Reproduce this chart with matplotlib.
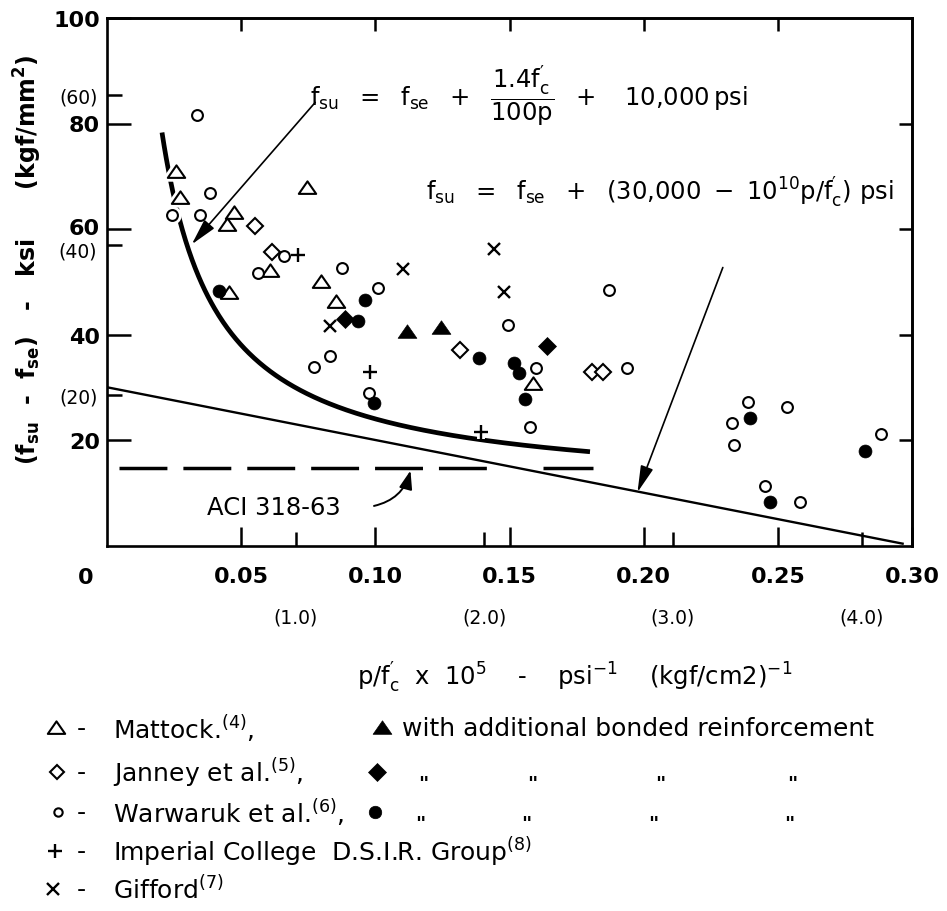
import numpy as np
import matplotlib
matplotlib.use("Agg")
import matplotlib.pyplot as plt
from matplotlib.path import Path
from matplotlib.transforms import ScaledTranslation

plt.rcParams['font.family'] = ['DejaVu Sans']
plt.rcParams['mathtext.fontset'] = 'dejavusans'
plt.rcParams['mathtext.default'] = 'regular'
plt.rcParams['lines.scale_dashes'] = False

# ---------------- data (x = p/f'c x 1e5 [1/psi], y = fsu - fse [ksi]) ----------------
mattock_x = [0.0257, 0.0272, 0.0474, 0.0449, 0.0747, 0.0606, 0.0456, 0.0799, 0.0854, 0.1587]
mattock_y = [70.8, 65.8, 63.0, 60.7, 67.7, 52.0, 47.8, 50.0, 46.1, 30.6]
mattock_b_x = [0.1118, 0.1246]
mattock_b_y = [40.4, 41.3]

janney_x = [0.0550, 0.0614, 0.1317, 0.1806, 0.1850]
janney_y = [60.5, 55.7, 37.1, 32.9, 32.9]
janney_b_x = [0.0888, 0.1638]
janney_b_y = [42.9, 37.8]

warwaruk_x = [0.0335, 0.0384, 0.0241, 0.0345, 0.0660, 0.0562, 0.0876, 0.1009, 0.0770,
              0.0830, 0.1495, 0.1597, 0.1576, 0.0975, 0.1937, 0.1871, 0.2390, 0.2328,
              0.2335, 0.2536, 0.2884, 0.2451, 0.2583]
warwaruk_y = [81.7, 66.8, 62.7, 62.7, 54.9, 51.7, 52.7, 48.9, 33.9,
              35.9, 41.8, 33.7, 22.4, 29.0, 33.6, 48.4, 27.2, 23.3,
              19.0, 26.2, 21.1, 11.3, 8.2]
warwaruk_b_x = [0.0418, 0.0963, 0.0934, 0.1388, 0.1516, 0.1535, 0.1556, 0.0994, 0.2396, 0.2826, 0.2470]
warwaruk_b_y = [48.3, 46.6, 42.5, 35.6, 34.6, 32.7, 27.7, 27.0, 24.1, 18.0, 8.3]

imperial_x = [0.0710, 0.0979, 0.1392]
imperial_y = [55.1, 32.9, 21.6]
gifford_x = [0.0832, 0.1103, 0.1444, 0.1479]
gifford_y = [41.6, 52.5, 56.2, 48.1]

# design curves (as printed on the chart)
curve1_coef = 1.4          # 1.4 f'c / (100 p)  -> ksi when x in 1e-5/psi
curve1_const = 10.0        # 10,000 psi
curve1_range = [0.0205, 0.180]
line2_x = [0.0, 0.2965]
line2_y = [30.0, 0.35]
aci_x = [0.0046, 0.1444]
aci_x2 = [0.1623, 0.1810]
aci_y = 14.7

x_major = [0.05, 0.10, 0.15, 0.20, 0.25, 0.30]
x_major_labels = ['0.05', '0.10', '0.15', '0.20', '0.25', '0.30']
x_minor_kgf = [1.0, 2.0, 3.0, 4.0]
x_minor_labels = ['(1.0)', '(2.0)', '(3.0)', '(4.0)']
y_major = [20, 40, 60, 80, 100]
y_major_labels = ['20', '40', '60', '80', '100']
y_minor_kgf = [20, 40, 60]
y_minor_labels = ['(20)', '(40)', '(60)']
PSI_PER_KGFCM2 = 14.2233
KSI_PER_KGFMM2 = 1.42233

# ---------------- figure ----------------
W, H = 947, 912
fig = plt.figure(figsize=(W / 100, H / 100), dpi=100)
L, R, T, B = 107, 912, 19, 546.5
ax = fig.add_axes([L / W, 1 - B / H, (R - L) / W, (B - T) / H])
ax.set_xlim(0, 0.30)
ax.set_ylim(0, 100)

for s in ax.spines.values():
    s.set_linewidth(1.9)

tri = Path([(-1, -0.62), (1, -0.62), (0, 0.82), (-1, -0.62)], closed=True)

# curves
xc = np.linspace(curve1_range[0], curve1_range[1], 400)
ax.plot(xc, curve1_coef / xc + curve1_const, color='k', lw=3.4, solid_capstyle='butt', zorder=2)
ax.plot(line2_x, line2_y, color='k', lw=1.7, zorder=2)
ax.plot(aci_x, [aci_y, aci_y], color='k', lw=2.5, dashes=(34.5, 11.5), zorder=2)
ax.plot(aci_x2, [aci_y, aci_y], color='k', lw=2.5, solid_capstyle='butt', zorder=2)

series = [
    (mattock_x, mattock_y, dict(marker=tri, ms=12.5, mfc='white', mew=1.5)),
    (janney_x, janney_y, dict(marker='D', ms=8.0, mfc='white', mew=1.5)),
    (warwaruk_x, warwaruk_y, dict(marker='o', ms=7.8, mfc='white', mew=1.5)),
    (imperial_x, imperial_y, dict(marker='+', ms=10, mew=1.7)),
    (gifford_x, gifford_y, dict(marker='x', ms=8.5, mew=1.7)),
    (mattock_b_x, mattock_b_y, dict(marker=tri, ms=13.5, mfc='k', mew=0.5)),
    (janney_b_x, janney_b_y, dict(marker='D', ms=9.6, mfc='k', mew=0.5)),
    (warwaruk_b_x, warwaruk_b_y, dict(marker='o', ms=9.3, mfc='k', mew=0.5)),
]
for xs, ys, kw in series:
    halo = dict(kw)
    halo.update(mfc='white', mec='white', mew=kw['mew'] + 4)
    ax.plot(xs, ys, ls='none', zorder=3, **halo)
for xs, ys, kw in series:
    ax.plot(xs, ys, ls='none', mec='k', color='k', zorder=4, **kw)

# annotations
f1 = (r"$\mathregular{f_{su}\ \ =\ \ f_{se}\ \ +\ \ \dfrac{1.4f^{\prime}_{c}}{100p}"
      r"\ \ +\ \ \ 10{,}000\,psi}$")
ax.text(0.0757, 85.5, f1, fontsize=17.5, ha='left', va='center', zorder=5)
ax.annotate('', xy=(0.0316, 57.1), xytext=(0.0776, 84.0),
            arrowprops=dict(arrowstyle='-|>,head_length=0.9,head_width=0.22', lw=1.2,
                            color='k', shrinkA=0, shrinkB=0, mutation_scale=18), zorder=5)
f2 = r"$\mathregular{f_{su}\ \ =\ \ f_{se}\ \ +\ \ (30{,}000\ -\ 10^{10}p/f^{\prime}_{c})\ psi}$"
ax.text(0.1187, 67.0, f2, fontsize=17.5, ha='left', va='center', zorder=5)
ax.annotate('', xy=(0.1977, 10.1), xytext=(0.2295, 52.7),
            arrowprops=dict(arrowstyle='-|>,head_length=0.9,head_width=0.22', lw=1.2,
                            color='k', shrinkA=0, shrinkB=0, mutation_scale=18), zorder=5)
ax.text(0.0373, 7.3, 'ACI 318-63', fontsize=17.5, ha='left', va='center', zorder=5)
ax.annotate('', xy=(0.1131, 14.2), xytext=(0.0995, 7.5),
            arrowprops=dict(arrowstyle='-|>,head_length=0.7,head_width=0.25', lw=1.4,
                            color='k', shrinkA=0, shrinkB=0, mutation_scale=16,
                            connectionstyle='arc3,rad=0.3'), zorder=5)

# ticks
ax.set_xticks(x_major, labels=x_major_labels)
ax.set_xticks([v / PSI_PER_KGFCM2 for v in x_minor_kgf], labels=x_minor_labels, minor=True)
ax.set_yticks(y_major, labels=y_major_labels)
ax.set_yticks([v * KSI_PER_KGFMM2 for v in y_minor_kgf], labels=y_minor_labels, minor=True)
ax.tick_params(axis='x', which='major', direction='in', length=14, width=1.8, pad=15, labelsize=16)
ax.tick_params(axis='x', which='minor', direction='in', length=10, width=1.8, pad=45, labelsize=13.5)
ax.tick_params(axis='y', which='major', direction='in', length=17, width=1.8, pad=5, labelsize=16)
ax.tick_params(axis='y', which='minor', direction='in', length=11, width=1.8, pad=7, labelsize=13.5)
for lab in ax.get_xticklabels() + ax.get_yticklabels():
    lab.set_fontweight('bold')
# nudge the crowded pair "60" / "(40)" apart a little
for lab in ax.get_yticklabels():
    if lab.get_text() == '60':
        lab.set_transform(lab.get_transform() + ScaledTranslation(0, 3 / 100, fig.dpi_scale_trans))
for lab in ax.get_yticklabels(minor=True):
    if lab.get_text() == '(40)':
        lab.set_transform(lab.get_transform() + ScaledTranslation(0, -4 / 100, fig.dpi_scale_trans))

secx = ax.secondary_xaxis('top')
secx.set_xticks(x_major[:-1])
secx.tick_params(direction='in', length=9, width=1.8, labeltop=False)
secx.spines['top'].set_linewidth(1.9)
secy = ax.secondary_yaxis('right')
secy.set_yticks(y_major[:-1])
secy.tick_params(direction='in', length=9.5, width=1.8, labelright=False)
secy.spines['right'].set_linewidth(1.9)

# ---------------- overlay in pixel coordinates for labels / legend ----------------
lg = fig.add_axes([0, 0, 1, 1], zorder=-1)
lg.set_xlim(0, W)
lg.set_ylim(H, 0)
lg.axis('off')

lg.text(86, 578, '0', fontsize=16, fontweight='bold', ha='center', va='center')
lg.text(575, 678, r"p/f$^{\prime}_{c}$  x  10$^{5}$    -    psi$^{-1}$    (kgf/cm2)$^{-1}$",
        fontsize=17.5, ha='center', va='center')
lg.text(28, 260, r"(f$_{su}$  -  f$_{se}$)   -   ksi      (kgf/mm$^{2}$)",
        fontsize=17, fontweight='bold', ha='center', va='center', rotation=90)

rows = [729, 773, 813, 852, 890]
fs = 18
legend_open = [
    (56, dict(marker=tri, ms=12.5, mfc='white', mew=1.5), 'Mattock.$^{(4)}$,'),
    (57, dict(marker='D', ms=7.5, mfc='white', mew=1.5), 'Janney et al.$^{(5)}$,'),
    (58, dict(marker='o', ms=6.0, mfc='white', mew=1.5), 'Warwaruk et al.$^{(6)}$,'),
    (55, dict(marker='+', ms=10.5, mew=1.7), 'Imperial College  D.S.I.R. Group$^{(8)}$'),
    (53, dict(marker='x', ms=8.5, mew=1.7), 'Gifford$^{(7)}$'),
]
for (mx, kw, label), ry in zip(legend_open, rows):
    lg.plot([mx], [ry], ls='none', mec='k', color='k', **kw)
    lg.text(81, ry, '-', fontsize=fs, ha='center', va='center')
    lg.text(113, ry, label, fontsize=fs, ha='left', va='center')

legend_filled = [
    (382, dict(marker=tri, ms=13.5, mfc='k', mew=0.5)),
    (377, dict(marker='D', ms=9.0, mfc='k', mew=0.5)),
    (375, dict(marker='o', ms=9.0, mfc='k', mew=0.5)),
]
for (mx, kw), ry in zip(legend_filled, rows[:3]):
    lg.plot([mx], [ry], ls='none', mec='k', color='k', **kw)
lg.text(402, rows[0], 'with additional bonded reinforcement', fontsize=fs, ha='left', va='center')
ditto_x = [[423, 532, 660, 792], [420, 526, 653, 789]]
for dxs, ry in zip(ditto_x, rows[1:3]):
    for dx in dxs:
        lg.text(dx, ry + 17, '"', fontsize=14, fontweight='bold', ha='center', va='baseline')

fig.savefig('out.png', dpi=100)
